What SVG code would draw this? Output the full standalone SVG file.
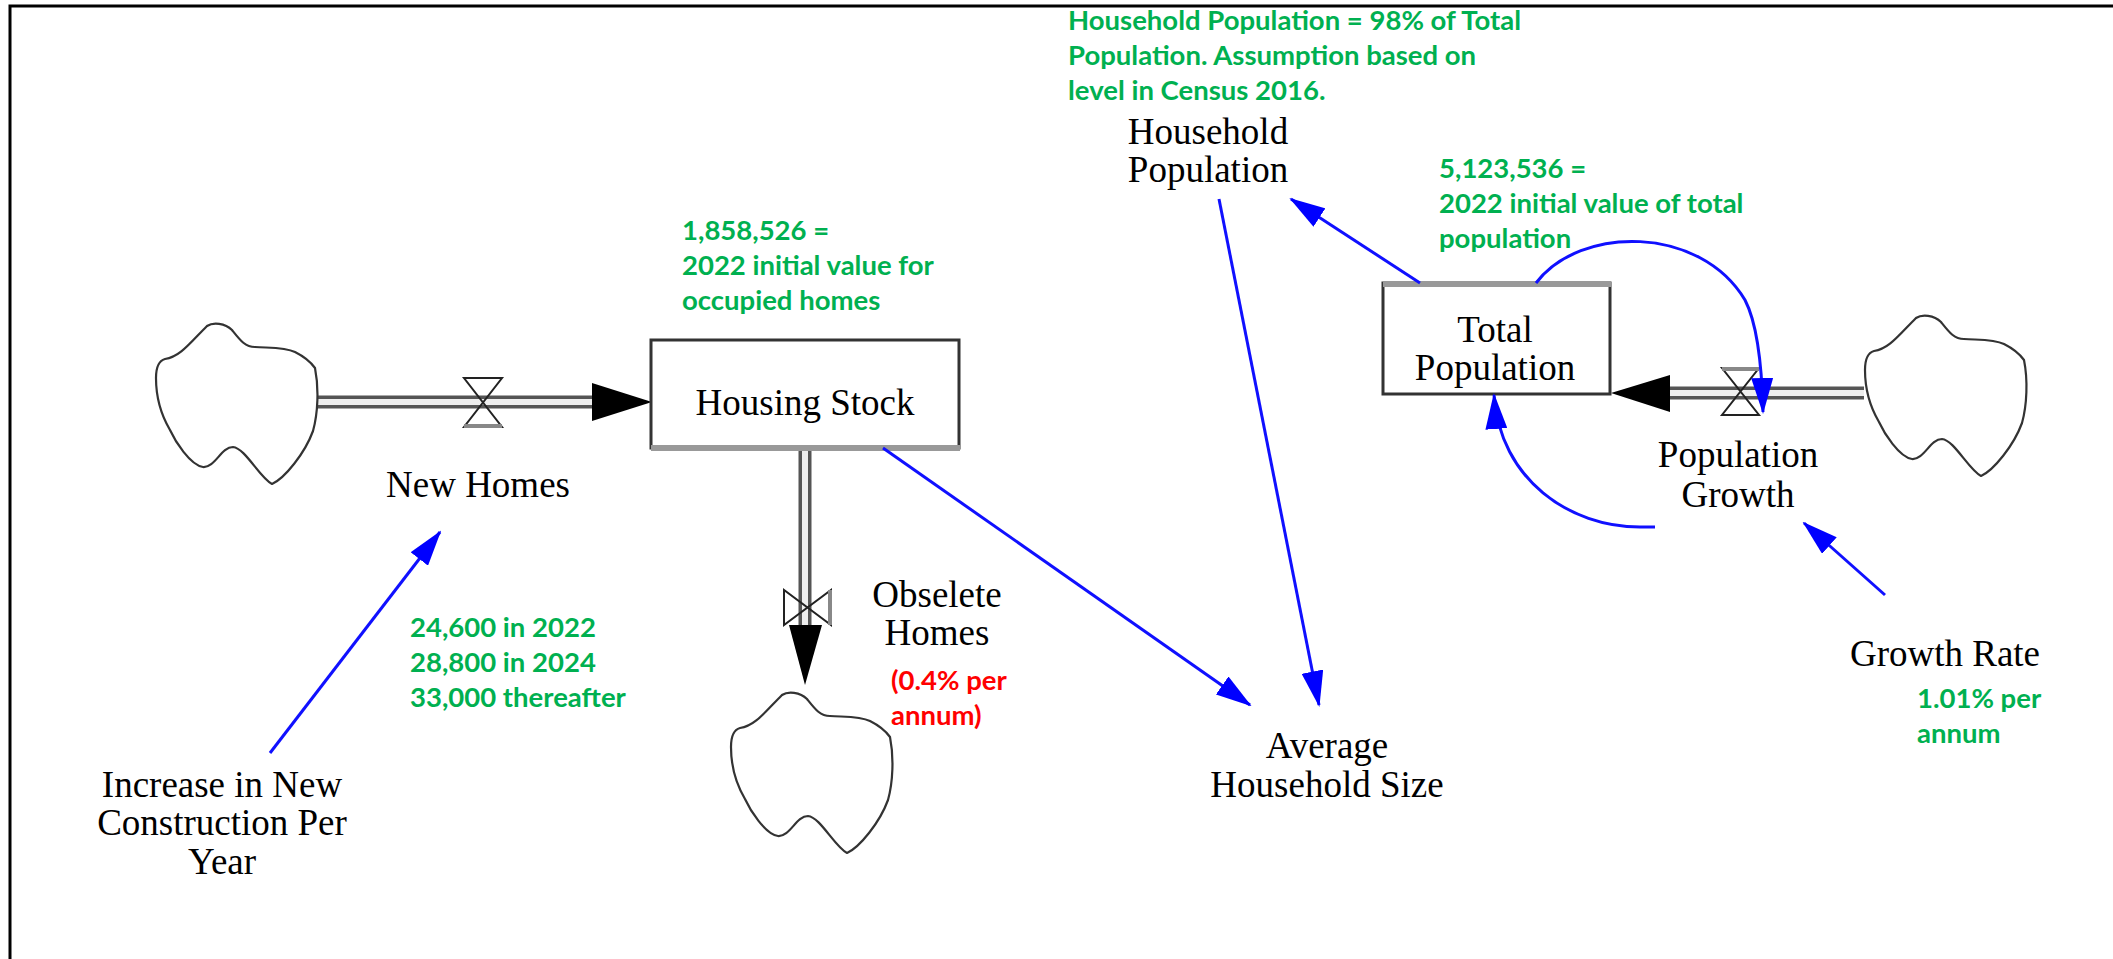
<svg xmlns="http://www.w3.org/2000/svg" width="2113" height="959" viewBox="0 0 2113 959">
<style>
.lbl{font-family:"Liberation Serif","Times New Roman",serif;font-size:37px;fill:#000;text-anchor:middle}
.note{font-family:Lato,"Liberation Sans",sans-serif;font-weight:bold;font-size:27.5px;fill:#00b050}
.red{fill:#ff0000}
.cloud{fill:#fff;stroke:#333;stroke-width:2.2;stroke-linejoin:round}
.pipeo{stroke:#555;stroke-width:13;fill:none}
.pipei{stroke:#eee;stroke-width:6;fill:none}
.valve{fill:none;stroke:#222;stroke-width:2}
.valvebar{stroke:#888;stroke-width:4}
.box{fill:#fff;stroke:#333;stroke-width:3}
.shadow{stroke:#999;stroke-width:6}
.conn{stroke:#1010ff;stroke-width:3;fill:none;marker-end:url(#ah)}
.flowhead{fill:#000}
</style>
<defs>
<marker id="ah" viewBox="0 0 36 22" refX="34" refY="11" markerWidth="36" markerHeight="22" markerUnits="userSpaceOnUse" orient="auto">
<path d="M0,0 L36,11 L0,22 Z" fill="#0000ff"/>
</marker>
<path id="cloudshape" d="M52,3 C58,-1 70,0 77,7 C85,17 90,24 100,24 C115,25 130,24 140,29 C150,34 155,38 160,45 C164,65 163,90 158,108 C150,130 130,155 117,161 C105,155 90,125 78,124 C66,124 60,145 48,144 C35,142 20,118 15,107 C5,90 1,75 1,55 C1,45 3,38 10,36 C25,34 35,20 52,3 Z"/>
</defs>

<path d="M10,959 L10,6 L2113,6" fill="none" stroke="#000" stroke-width="3"/>

<g id="flows">
<line class="pipeo" x1="317" y1="402" x2="600" y2="402"/>
<line class="pipei" x1="317" y1="402" x2="600" y2="402"/>
<path class="flowhead" d="M592,383 L652,402 L592,421 Z"/>
<line class="pipeo" x1="805" y1="448" x2="805" y2="630"/>
<line class="pipei" x1="805" y1="448" x2="805" y2="630"/>
<path class="flowhead" d="M789,625 L805,685 L822,625 Z"/>
<line class="pipeo" x1="1660" y1="393" x2="1864" y2="393"/>
<line class="pipei" x1="1660" y1="393" x2="1864" y2="393"/>
<path class="flowhead" d="M1670,375 L1611,393 L1670,412 Z"/>
</g>

<g id="cloud-new-homes-source"><use href="#cloudshape" class="cloud" transform="translate(155,323)"/></g>
<g id="cloud-obsolete-sink"><use href="#cloudshape" class="cloud" transform="translate(730,692)"/></g>
<g id="cloud-population-source"><use href="#cloudshape" class="cloud" transform="translate(1864,315)"/></g>

<g id="new-homes">
<path class="valve" d="M464,378 L502,378 L464,427 L502,427 Z"/>
<line class="valvebar" x1="464" y1="426" x2="502" y2="426"/>
<text class="lbl" x="478" y="497">New Homes</text>
</g>

<g id="obsolete-homes">
<path class="valve" d="M784,590 L784,625 L831,590 L831,625 Z"/>
<line class="valvebar" x1="830" y1="590" x2="830" y2="625"/>
<text class="lbl" x="937" y="607">Obselete</text>
<text class="lbl" x="937" y="645">Homes</text>
</g>

<g id="population-growth">
<path class="valve" d="M1722,368 L1759,368 L1722,415 L1759,415 Z"/>
<line class="valvebar" x1="1722" y1="369" x2="1759" y2="369"/>
<text class="lbl" x="1738" y="467">Population</text>
<text class="lbl" x="1738" y="507">Growth</text>
</g>

<g id="housing-stock">
<rect class="box" x="651" y="340" width="308" height="108"/>
<line class="shadow" x1="651" y1="448" x2="960" y2="448"/>
<text class="lbl" x="805" y="415">Housing Stock</text>
</g>

<g id="total-population">
<rect class="box" x="1383" y="283" width="227" height="111"/>
<line class="shadow" x1="1383" y1="284" x2="1611" y2="284"/>
<text class="lbl" x="1495" y="342">Total</text>
<text class="lbl" x="1495" y="380">Population</text>
</g>

<g id="household-population">
<text class="lbl" x="1208" y="144">Household</text>
<text class="lbl" x="1208" y="182">Population</text>
</g>

<g id="average-household-size">
<text class="lbl" x="1327" y="758">Average</text>
<text class="lbl" x="1327" y="797">Household Size</text>
</g>

<g id="growth-rate">
<text class="lbl" x="1945" y="666">Growth Rate</text>
</g>

<g id="increase-construction">
<text class="lbl" x="222" y="797">Increase in New</text>
<text class="lbl" x="222" y="835">Construction Per</text>
<text class="lbl" x="222" y="874">Year</text>
</g>

<g id="connectors">
<line class="conn" x1="270" y1="753" x2="440" y2="532"/>
<line class="conn" x1="883" y1="448" x2="1250" y2="705"/>
<line class="conn" x1="1219" y1="199" x2="1319" y2="705"/>
<line class="conn" x1="1420" y1="283" x2="1291" y2="199"/>
<path class="conn" d="M1536,283 C1580,225 1700,225 1745,300 C1758,325 1762,370 1763,412"/>
<path class="conn" d="M1655,527 L1640,527 C1570,527 1500,480 1494,395"/>
<line class="conn" x1="1885" y1="595" x2="1804" y2="523"/>
</g>

<g id="notes">
<text class="note" x="1068" y="30">Household Population = 98% of Total</text>
<text class="note" x="1068" y="65">Population. Assumption based on</text>
<text class="note" x="1068" y="100">level in Census 2016.</text>
<text class="note" x="682" y="240">1,858,526 =</text>
<text class="note" x="682" y="275">2022 initial value for</text>
<text class="note" x="682" y="310">occupied homes</text>
<text class="note" x="1439" y="178">5,123,536 =</text>
<text class="note" x="1439" y="213">2022 initial value of total</text>
<text class="note" x="1439" y="248">population</text>
<text class="note" x="410" y="637">24,600 in 2022</text>
<text class="note" x="410" y="672">28,800 in 2024</text>
<text class="note" x="410" y="707">33,000 thereafter</text>
<text class="note red" x="891" y="690">(0.4% per</text>
<text class="note red" x="891" y="725">annum)</text>
<text class="note" x="1917" y="708">1.01% per</text>
<text class="note" x="1917" y="743">annum</text>
</g>
</svg>
